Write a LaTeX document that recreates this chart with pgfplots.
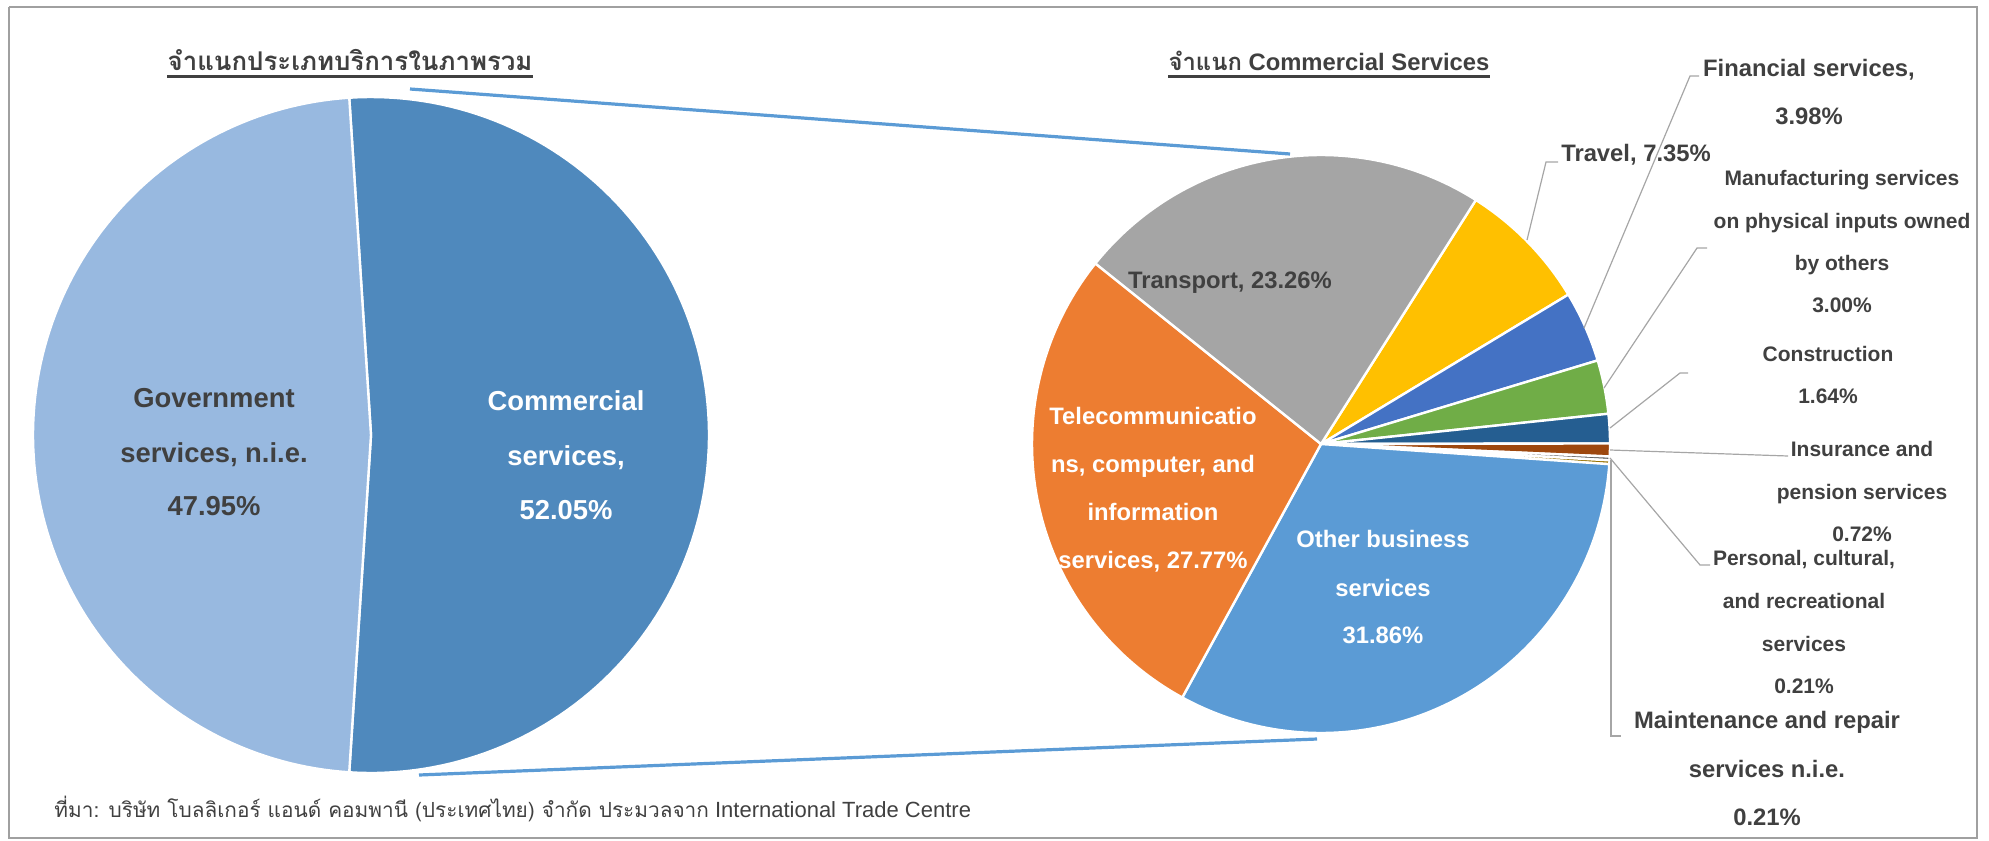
\documentclass[border=0pt]{standalone}
\usepackage{pgfplots}
\pgfplotsset{compat=1.18}
\usepackage{fontspec}
\setmainfont{Liberation Sans}
\newfontfamily\thai[Script=Thai]{Loma}
\definecolor{gov}{HTML}{98B9E0}
\definecolor{com}{HTML}{4F89BD}
\definecolor{trans}{HTML}{A5A5A5}
\definecolor{trav}{HTML}{FFC000}
\definecolor{fin}{HTML}{4472C4}
\definecolor{manu}{HTML}{70AD47}
\definecolor{cons}{HTML}{255E91}
\definecolor{insu}{HTML}{9E480E}
\definecolor{pers}{HTML}{636363}
\definecolor{maint}{HTML}{997300}
\definecolor{oth}{HTML}{5B9BD5}
\definecolor{tele}{HTML}{ED7D31}
\definecolor{txt}{HTML}{404040}
\definecolor{lead}{HTML}{A6A6A6}
\definecolor{frame}{HTML}{A0A0A0}
\newcommand\cur{0}
% #1 cx, #2 cy, #3 r, #4 percent, #5 colour
\newcommand\slice[5]{%
  \pgfmathsetmacro\sA{\cur}%
  \pgfmathsetmacro\sB{\cur-3.6*#4}%
  \xdef\cur{\sB}%
  \edef\tmp{\noexpand\addplot[fill=#5, draw=white, line width=1.2pt, line join=round, domain=\sB:\sA, samples=120, variable=\noexpand\t, forget plot] ({#1+#3*cos(\noexpand\t)}, {#2-#3*sin(\noexpand\t)}) -- (axis cs:#1,#2) -- cycle;}%
  \tmp}
\newcommand\lab[5]{\node[anchor=base, inner sep=0pt, text=#4, font=#3] at (axis cs:#1,#2) {#5};}
\newcommand\fbig{\fontsize{13.7pt}{16pt}\selectfont\bfseries}
\newcommand\fmed{\fontsize{11.9pt}{14pt}\selectfont\bfseries}
\newcommand\fsml{\fontsize{10.5pt}{12pt}\selectfont\bfseries}
\begin{document}
\begin{tikzpicture}
\begin{axis}[x=0.5pt, y=0.5pt, y dir=reverse, xmin=0, xmax=1989, ymin=0, ymax=840,
  hide axis, clip=false, scale only axis]
\addplot[draw=none, forget plot] coordinates {(0,0) (1989,840)};
% frame
\addplot[draw=frame, line width=1pt, forget plot] coordinates {(9,7) (1977,7) (1977,838) (9,838) (9,7)};
% left pie
\gdef\cur{93.69}
\slice{371}{435}{338}{52.05}{com}
\slice{371}{435}{338}{47.95}{gov}
% right pie
\gdef\cur{57.6}
\slice{1321}{444}{289}{7.35}{trav}
\slice{1321}{444}{289}{3.98}{fin}
\slice{1321}{444}{289}{3.00}{manu}
\slice{1321}{444}{289}{1.64}{cons}
\slice{1321}{444}{289}{0.72}{insu}
\slice{1321}{444}{289}{0.21}{pers}
\slice{1321}{444}{289}{0.21}{maint}
\slice{1321}{444}{289}{31.86}{oth}
\slice{1321}{444}{289}{27.77}{tele}
\slice{1321}{444}{289}{23.26}{trans}
% connector lines
\addplot[draw=oth, line width=1.6pt, forget plot] coordinates {(410,89) (1290,154)};
\addplot[draw=oth, line width=1.6pt, forget plot] coordinates {(419,775) (1317,739)};
% leader lines
\addplot[draw=lead, line width=0.6pt, forget plot] coordinates {(1527,240) (1546,162) (1558,162)};
\addplot[draw=lead, line width=0.6pt, forget plot] coordinates {(1584,328) (1690,76) (1699,76)};
\addplot[draw=lead, line width=0.6pt, forget plot] coordinates {(1604,388) (1697,248) (1707,248)};
\addplot[draw=lead, line width=0.6pt, forget plot] coordinates {(1610,428) (1680,373) (1688,373)};
\addplot[draw=lead, line width=0.6pt, forget plot] coordinates {(1610,450) (1788,456)};
\addplot[draw=lead, line width=0.6pt, forget plot] coordinates {(1610,458) (1700,565) (1710,565)};
\addplot[draw=lead, line width=0.6pt, forget plot] coordinates {(1611,460) (1611,736) (1621,736)};
% left labels
\lab{214}{407}{\fbig}{txt}{Government}
\lab{214}{462}{\fbig}{txt}{services, n.i.e.}
\lab{214}{515}{\fbig}{txt}{47.95\%}
\lab{566}{410}{\fbig}{white}{Commercial}
\lab{566}{465}{\fbig}{white}{services,}
\lab{566}{519}{\fbig}{white}{52.05\%}
% right labels
\lab{1230}{288}{\fmed}{txt}{Transport, 23.26\%}
\lab{1153}{424}{\fmed}{white}{Telecommunicatio}
\lab{1153}{472}{\fmed}{white}{ns, computer, and}
\lab{1153}{520}{\fmed}{white}{information}
\lab{1153}{568}{\fmed}{white}{services, 27.77\%}
\lab{1383}{547}{\fmed}{white}{Other business}
\lab{1383}{596}{\fmed}{white}{services}
\lab{1383}{643}{\fmed}{white}{31.86\%}
\lab{1636}{162}{\fmed}{txt}{Travel, 7.35\%}
\lab{1809}{76}{\fmed}{txt}{Financial services,}
\lab{1809}{125}{\fmed}{txt}{3.98\%}
\lab{1842}{185}{\fsml}{txt}{Manufacturing services}
\lab{1842}{228}{\fsml}{txt}{on physical inputs owned}
\lab{1842}{270}{\fsml}{txt}{by others}
\lab{1842}{312}{\fsml}{txt}{3.00\%}
\lab{1828}{361}{\fsml}{txt}{Construction}
\lab{1828}{403}{\fsml}{txt}{1.64\%}
\lab{1862}{456}{\fsml}{txt}{Insurance and}
\lab{1862}{499}{\fsml}{txt}{pension services}
\lab{1862}{541}{\fsml}{txt}{0.72\%}
\lab{1804}{565}{\fsml}{txt}{Personal, cultural,}
\lab{1804}{608}{\fsml}{txt}{and recreational}
\lab{1804}{651}{\fsml}{txt}{services}
\lab{1804}{693}{\fsml}{txt}{0.21\%}
\lab{1767}{728}{\fmed}{txt}{Maintenance and repair}
\lab{1767}{777}{\fmed}{txt}{services n.i.e.}
\lab{1767}{825}{\fmed}{txt}{0.21\%}
% titles
\node[anchor=base, inner sep=0pt, text=txt, font=\fontsize{12.9pt}{15pt}\selectfont] (t1) at (axis cs:350,71) {\thai\bfseries จำแนกประเภทบริการในภาพรวม};
\node[anchor=base, inner sep=0pt, text=txt, font=\fmed] (t2) at (axis cs:1329,71) {{\thai\bfseries จำแนก} Commercial Services};
\draw[txt, line width=1.1pt] ([yshift=-2.8pt]t1.base west) -- ([yshift=-2.8pt]t1.base east);
\draw[txt, line width=1.1pt] ([yshift=-2.8pt]t2.base west) -- ([yshift=-2.8pt]t2.base east);
% source
\node[anchor=base west, inner sep=0pt, text=txt, font=\fontsize{11pt}{13pt}\selectfont] at (axis cs:54,817) {{\thai\fontsize{10.4pt}{13pt}\selectfont ที่มา: บริษัท โบลลิเกอร์ แอนด์ คอมพานี (ประเทศไทย) จำกัด ประมวลจาก} International Trade Centre};
\end{axis}
\end{tikzpicture}
\end{document}
